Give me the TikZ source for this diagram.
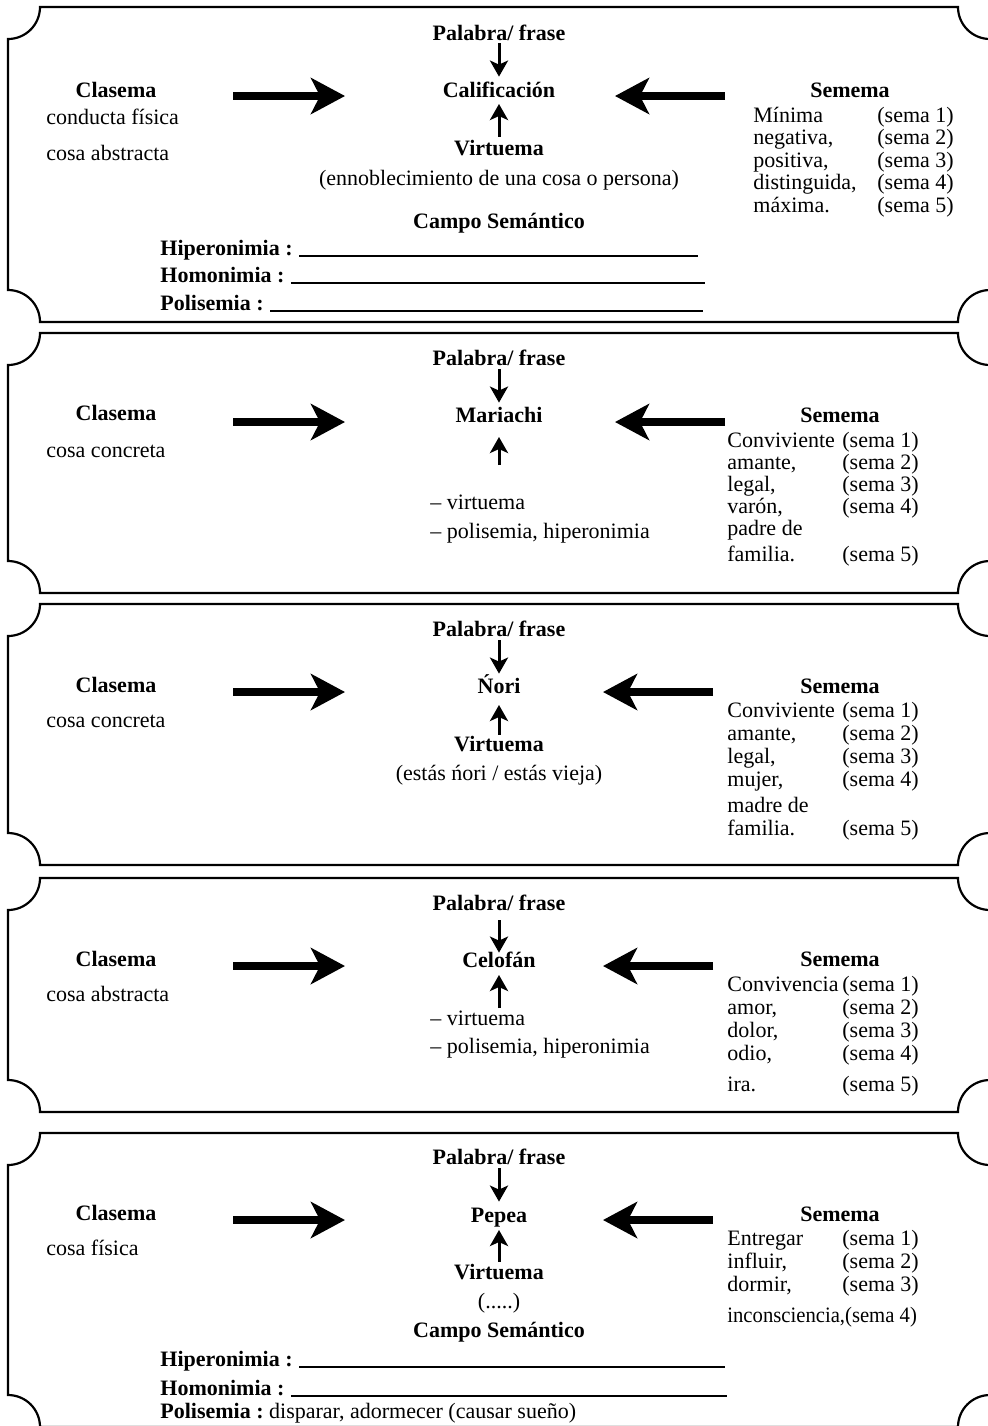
\documentclass[tikz,border=0pt]{standalone}
\usepackage{fontspec}
\setmainfont{Liberation Serif}
\usetikzlibrary{arrows.meta}
\newcommand\panelframe[2]{%
  \draw[frame] (40,#1) -- (958,#1) .. controls (958,#1+17.7) and (972.3,#1+32) .. (990,#1+32)
    -- (990,#2-32) .. controls (972.3,#2-32) and (958,#2-17.7) .. (958,#2)
    -- (40,#2) .. controls (40,#2-17.7) and (25.7,#2-32) .. (8,#2-32)
    -- (8,#1+32) .. controls (25.7,#1+32) and (40,#1+17.7) .. (40,#1) -- cycle;}
\begin{document}
\begin{tikzpicture}[x=0.5pt,y=-0.5pt,
  every node/.style={inner sep=0pt, font=\fontsize{11pt}{13pt}\selectfont},
  hd/.style={font=\fontsize{11pt}{13pt}\selectfont\bfseries, anchor=base},
  ctr/.style={hd, text height=7.5pt, text depth=0pt},
  lt/.style={anchor=base west},
  hdl/.style={hd, anchor=base west},
  frame/.style={line width=1.1pt},
  uline/.style={line width=0.75pt},
  thinarr/.style={line width=1.5pt, -{Stealth[length=8pt,width=9pt,inset=2pt]}},
  thickarr/.style={line width=3.6pt, -{Stealth[length=17pt,width=18pt,inset=4.5pt]}}
]
\useasboundingbox (0,0) rectangle (988,1426);

% ================= Panel 1 =================
\panelframe{7}{322}
\node[ctr] (p1pal) at (499,40) {Palabra/ frase};
\node[ctr] (p1w) at (499,97) {Calificación};
\node[ctr] (p1vir) at (499,155) {Virtuema};
\node[anchor=base] (p1vtx) at (499,185) {(ennoblecimiento de una cosa o persona)};
\node[hd] (p1campo) at (499,228) {Campo Semántico};
\node[hdl] (p1hip) at (160,255) {Hiperonimia :};
\node[hdl] (p1hom) at (160,282) {Homonimia :};
\node[hdl] (p1pol) at (160,310) {Polisemia :};
\coordinate (p1hipE) at (698,256);
\coordinate (p1homE) at (705,283);
\coordinate (p1polE) at (703,311);
\coordinate (p1hipS) at ([xshift=3pt,yshift=-0.6pt]p1hip.base east);
\coordinate (p1homS) at ([xshift=3pt,yshift=-0.6pt]p1hom.base east);
\coordinate (p1polS) at ([xshift=3pt,yshift=-0.6pt]p1pol.base east);
\draw[uline] (p1hipS) -- (p1hipS -| p1hipE);
\draw[uline] (p1homS) -- (p1homS -| p1homE);
\draw[uline] (p1polS) -- (p1polS -| p1polE);
\draw[thinarr] ([yshift=-1.5pt]p1pal.base) -- ([yshift=2.5pt]p1w.north);
\draw[thinarr] ([yshift=1.5pt]p1vir.north) -- ([yshift=-3.5pt]p1w.base);
\node[hd] (p1cl) at (116,97) {Clasema};
\node[lt] (p1c1) at (46,124) {conducta física};
\node[lt] (p1c2) at (46,160) {cosa abstracta};
\coordinate (p1ra) at (233,96); \coordinate (p1rb) at (345,96);
\coordinate (p1la) at (725,96); \coordinate (p1lb) at (615,96);
\draw[thickarr] (p1ra) -- (p1rb);
\draw[thickarr] (p1la) -- (p1lb);
\node[hd] (p1se) at (850,97) {Semema};
\node[lt] (p1s1) at (753,122) {Mínima};      \node[lt] (p1t1) at (877,122) {(sema 1)};
\node[lt] (p1s2) at (753,144.5) {negativa,}; \node[lt] (p1t2) at (877,144.5) {(sema 2)};
\node[lt] (p1s3) at (753,167) {positiva,};   \node[lt] (p1t3) at (877,167) {(sema 3)};
\node[lt] (p1s4) at (753,189.5) {distinguida,}; \node[lt] (p1t4) at (877,189.5) {(sema 4)};
\node[lt] (p1s5) at (753,212) {máxima.};     \node[lt] (p1t5) at (877,212) {(sema 5)};

% ================= Panel 2 =================
\panelframe{333}{593}
\node[ctr] (p2pal) at (499,365) {Palabra/ frase};
\node[ctr] (p2w) at (499,422) {Mariachi};
\coordinate (p2tail) at (499,465);
\draw[thinarr] ([yshift=-2pt]p2pal.base) -- ([yshift=2pt]p2w.north);
\draw[thinarr] (p2tail) -- ([yshift=-7.5pt]p2w.base);
\node[lt] (p2v1) at (430,509) {– virtuema};
\node[lt] (p2v2) at (430,538) {– polisemia, hiperonimia};
\node[hd] (p2cl) at (116,420) {Clasema};
\node[lt] (p2c1) at (46,457) {cosa concreta};
\coordinate (p2ra) at (233,422); \coordinate (p2rb) at (345,422);
\coordinate (p2la) at (725,422); \coordinate (p2lb) at (615,422);
\draw[thickarr] (p2ra) -- (p2rb);
\draw[thickarr] (p2la) -- (p2lb);
\node[hd] (p2se) at (840,422) {Semema};
\node[lt] (p2s1) at (727,447) {Conviviente}; \node[lt] (p2t1) at (842,447) {(sema 1)};
\node[lt] (p2s2) at (727,469) {amante,};     \node[lt] (p2t2) at (842,469) {(sema 2)};
\node[lt] (p2s3) at (727,491) {legal,};      \node[lt] (p2t3) at (842,491) {(sema 3)};
\node[lt] (p2s4) at (727,513) {varón,};      \node[lt] (p2t4) at (842,513) {(sema 4)};
\node[lt] (p2s5) at (727,535) {padre de};
\node[lt] (p2s6) at (727,561) {familia.};    \node[lt] (p2t5) at (842,561) {(sema 5)};

% ================= Panel 3 =================
\panelframe{604}{865}
\node[ctr] (p3pal) at (499,636) {Palabra/ frase};
\node[ctr] (p3w) at (499,693) {Ńori};
\node[ctr] (p3vir) at (499,751) {Virtuema};
\node[anchor=base] (p3vtx) at (499,780) {(estás ńori / estás vieja)};
\draw[thinarr] ([yshift=-2pt]p3pal.base) -- ([yshift=2pt]p3w.north);
\draw[thinarr] ([yshift=0.5pt]p3vir.north) -- ([yshift=-6pt]p3w.base);
\node[hd] (p3cl) at (116,692) {Clasema};
\node[lt] (p3c1) at (46,727) {cosa concreta};
\coordinate (p3ra) at (233,692); \coordinate (p3rb) at (345,692);
\coordinate (p3la) at (713,692); \coordinate (p3lb) at (603,692);
\draw[thickarr] (p3ra) -- (p3rb);
\draw[thickarr] (p3la) -- (p3lb);
\node[hd] (p3se) at (840,693) {Semema};
\node[lt] (p3s1) at (727,717) {Conviviente}; \node[lt] (p3t1) at (842,717) {(sema 1)};
\node[lt] (p3s2) at (727,740) {amante,};     \node[lt] (p3t2) at (842,740) {(sema 2)};
\node[lt] (p3s3) at (727,763) {legal,};      \node[lt] (p3t3) at (842,763) {(sema 3)};
\node[lt] (p3s4) at (727,786) {mujer,};      \node[lt] (p3t4) at (842,786) {(sema 4)};
\node[lt] (p3s5) at (727,812) {madre de};
\node[lt] (p3s6) at (727,835) {familia.};    \node[lt] (p3t5) at (842,835) {(sema 5)};

% ================= Panel 4 =================
\panelframe{878}{1112}
\node[ctr] (p4pal) at (499,910) {Palabra/ frase};
\node[ctr] (p4w) at (499,967) {Celofán};
\coordinate (p4tail) at (499,1008);
\draw[thinarr] ([yshift=-5pt]p4pal.base) -- ([yshift=-0.5pt]p4w.north);
\draw[thinarr] (p4tail) -- ([yshift=-4pt]p4w.base);
\node[lt] (p4v1) at (430,1025) {– virtuema};
\node[lt] (p4v2) at (430,1053) {– polisemia, hiperonimia};
\node[hd] (p4cl) at (116,966) {Clasema};
\node[lt] (p4c1) at (46,1001) {cosa abstracta};
\coordinate (p4ra) at (233,966); \coordinate (p4rb) at (345,966);
\coordinate (p4la) at (713,966); \coordinate (p4lb) at (603,966);
\draw[thickarr] (p4ra) -- (p4rb);
\draw[thickarr] (p4la) -- (p4lb);
\node[hd] (p4se) at (840,966) {Semema};
\node[lt] (p4s1) at (727,991) {Convivencia}; \node[lt] (p4t1) at (842,991) {(sema 1)};
\node[lt] (p4s2) at (727,1014) {amor,};      \node[lt] (p4t2) at (842,1014) {(sema 2)};
\node[lt] (p4s3) at (727,1037) {dolor,};     \node[lt] (p4t3) at (842,1037) {(sema 3)};
\node[lt] (p4s4) at (727,1060) {odio,};      \node[lt] (p4t4) at (842,1060) {(sema 4)};
\node[lt] (p4s5) at (727,1091) {ira.};       \node[lt] (p4t5) at (842,1091) {(sema 5)};

% ================= Panel 5 =================
\panelframe{1133}{1427}
\node[ctr] (p5pal) at (499,1164) {Palabra/ frase};
\node[ctr] (p5w) at (499,1222) {Pepea};
\node[ctr] (p5vir) at (499,1279) {Virtuema};
\node[anchor=base] (p5vtx) at (499,1308) {(.....)};
\node[hd] (p5campo) at (499,1337) {Campo Semántico};
\draw[thinarr] ([yshift=-2pt]p5pal.base) -- ([yshift=2.5pt]p5w.north);
\draw[thinarr] ([yshift=1pt]p5vir.north) -- ([yshift=-4pt]p5w.base);
\node[hdl] (p5hip) at (160,1366) {Hiperonimia :};
\node[hdl] (p5hom) at (160,1395) {Homonimia :};
\node[lt] (p5pol) at (160,1418) {\bfseries Polisemia :\mdseries\ disparar, adormecer (causar sueño)};
\coordinate (p5hipE) at (725,1367);
\coordinate (p5homE) at (727,1396);
\coordinate (p5hipS) at ([xshift=3pt,yshift=-0.6pt]p5hip.base east);
\coordinate (p5homS) at ([xshift=3pt,yshift=-0.6pt]p5hom.base east);
\draw[uline] (p5hipS) -- (p5hipS -| p5hipE);
\draw[uline] (p5homS) -- (p5homS -| p5homE);
\node[hd] (p5cl) at (116,1220) {Clasema};
\node[lt] (p5c1) at (46,1255) {cosa física};
\coordinate (p5ra) at (233,1220); \coordinate (p5rb) at (345,1220);
\coordinate (p5la) at (713,1220); \coordinate (p5lb) at (603,1220);
\draw[thickarr] (p5ra) -- (p5rb);
\draw[thickarr] (p5la) -- (p5lb);
\node[hd] (p5se) at (840,1221) {Semema};
\node[lt] (p5s1) at (727,1245) {Entregar};   \node[lt] (p5t1) at (842,1245) {(sema 1)};
\node[lt] (p5s2) at (727,1268) {influir,};   \node[lt] (p5t2) at (842,1268) {(sema 2)};
\node[lt] (p5s3) at (727,1291) {dormir,};    \node[lt] (p5t3) at (842,1291) {(sema 3)};
\node[lt, font=\fontsize{11pt}{13pt}\selectfont\addfontfeatures{FakeStretch=0.94}] (p5s4) at (727,1322) {inconsciencia,(sema 4)};
\end{tikzpicture}
\end{document}
